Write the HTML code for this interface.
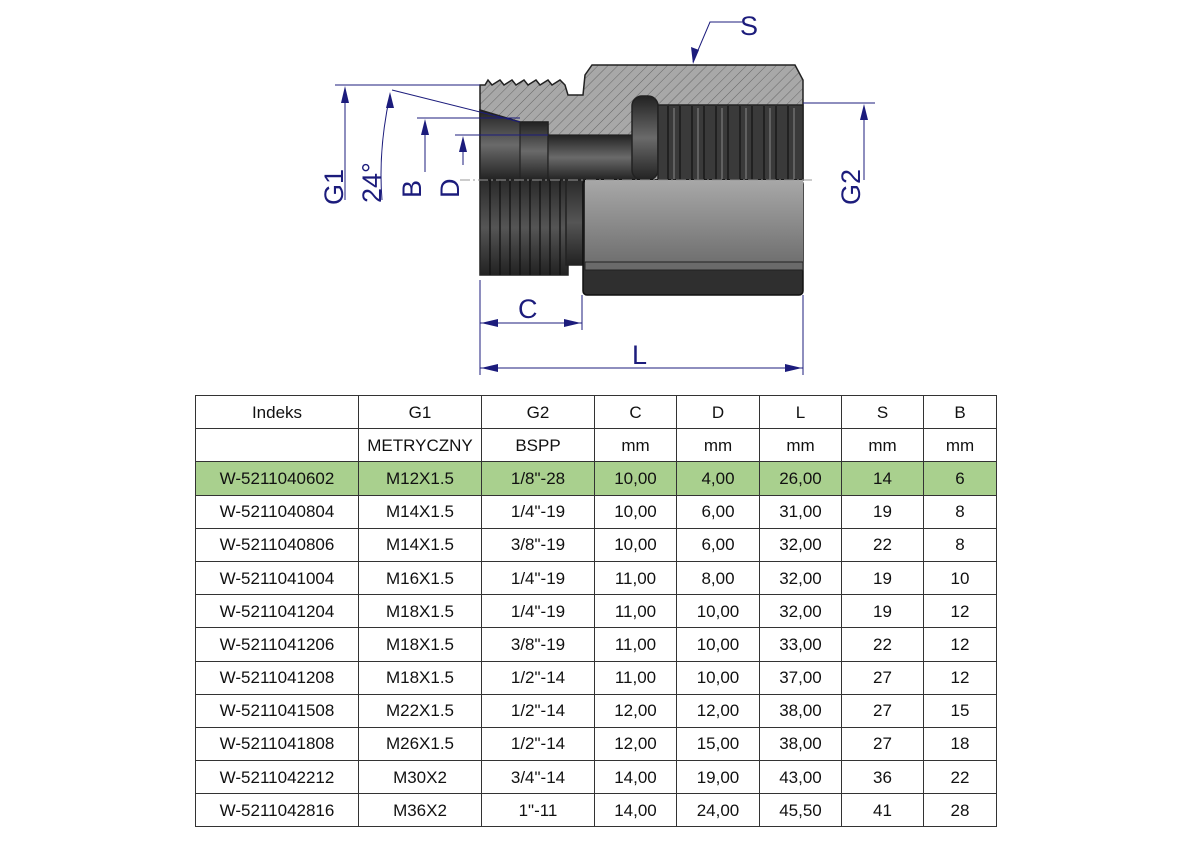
<!DOCTYPE html>
<html><head><meta charset="utf-8"><style>
body{margin:0;width:1191px;height:842px;background:#fff;position:relative;overflow:hidden;font-family:"Liberation Sans",Arial,sans-serif}
table{position:absolute;left:195px;top:395px;border-collapse:collapse;font-size:17px;color:#111;table-layout:fixed}
td{border:1.5px solid #333;text-align:center;padding:0;height:31.7px;line-height:31px}
tr{height:33.2px}
tr.g td{background:#a9d08e}
svg{position:absolute;left:0;top:0}
</style></head><body>
<svg width="1191" height="390" viewBox="0 0 1191 390">
<defs>
<pattern id="h" width="7" height="7" patternUnits="userSpaceOnUse" patternTransform="rotate(45)">
<rect width="7" height="7" fill="#a8a8a8"/><line x1="0" y1="0" x2="0" y2="7" stroke="#555" stroke-width="0.8"/></pattern>
<linearGradient id="dk" x1="0" y1="0" x2="0" y2="1"><stop offset="0" stop-color="#222"/><stop offset="0.5" stop-color="#6a6a6a"/><stop offset="1" stop-color="#222"/></linearGradient>
<linearGradient id="lt" x1="0" y1="0" x2="0" y2="1"><stop offset="0" stop-color="#a8a8a8"/><stop offset="1" stop-color="#707070"/></linearGradient>
<linearGradient id="bt" x1="0" y1="0" x2="0" y2="1"><stop offset="0" stop-color="#2a2a2a"/><stop offset="0.5" stop-color="#555"/><stop offset="1" stop-color="#222"/></linearGradient>
</defs>
<polygon points="480,85 485,85 488,80 492,85 500,80 504,85 512,80 516,85 524,80 528,85 536,80 540,85 548,80 552,85 560,80 565,85 568,95 583,95 585,75 592,65 795,65 803,80 803,180 480,180" fill="url(#h)" stroke="#222" stroke-width="1.5"/>
<polygon points="480,110 520,122 548,122 548,180 480,180" fill="url(#dk)" stroke="#222" stroke-width="1.5"/>
<rect x="520" y="122" width="28" height="58" fill="url(#dk)" stroke="#222" stroke-width="1.2"/>
<rect x="548" y="135" width="88" height="45" fill="url(#dk)" stroke="#222" stroke-width="1.2"/>
<rect x="632" y="96" width="26" height="84" rx="10" fill="url(#dk)" stroke="#222" stroke-width="1.5"/>
<rect x="658" y="105" width="145" height="75" fill="#3a3a3a" stroke="#222" stroke-width="1.5"/>
<g stroke="#111" stroke-width="1.2">
<line x1="668" y1="106" x2="668" y2="180"/><line x1="680" y1="106" x2="680" y2="180"/><line x1="692" y1="106" x2="692" y2="180"/><line x1="704" y1="106" x2="704" y2="180"/><line x1="716" y1="106" x2="716" y2="180"/><line x1="728" y1="106" x2="728" y2="180"/><line x1="740" y1="106" x2="740" y2="180"/><line x1="752" y1="106" x2="752" y2="180"/><line x1="764" y1="106" x2="764" y2="180"/><line x1="776" y1="106" x2="776" y2="180"/><line x1="788" y1="106" x2="788" y2="180"/></g>
<g stroke="#888" stroke-width="1"><line x1="674" y1="108" x2="674" y2="180"/><line x1="698" y1="108" x2="698" y2="180"/><line x1="722" y1="108" x2="722" y2="180"/><line x1="746" y1="108" x2="746" y2="180"/><line x1="770" y1="108" x2="770" y2="180"/><line x1="794" y1="108" x2="794" y2="180"/></g>
<rect x="480" y="180" width="88" height="95" fill="url(#bt)" stroke="#222" stroke-width="1.5"/>
<g stroke="#111" stroke-width="1.3"><line x1="490" y1="180" x2="490" y2="275"/><line x1="500" y1="180" x2="500" y2="275"/><line x1="510" y1="180" x2="510" y2="275"/><line x1="520" y1="180" x2="520" y2="275"/><line x1="530" y1="180" x2="530" y2="275"/><line x1="540" y1="180" x2="540" y2="275"/><line x1="550" y1="180" x2="550" y2="275"/><line x1="560" y1="180" x2="560" y2="275"/></g>
<rect x="566" y="180" width="17" height="85" fill="url(#bt)" stroke="#222" stroke-width="1.5"/>
<rect x="583" y="180" width="220" height="115" rx="4" fill="#2f2f2f" stroke="#111" stroke-width="1.5"/>
<polygon points="585,180 803,180 803,262 585,262" fill="url(#lt)"/>
<rect x="585" y="262" width="218" height="8" fill="#6a6a6a" stroke="#222" stroke-width="1"/>
<line x1="460" y1="180" x2="815" y2="180" stroke="#999" stroke-dasharray="10,3,2,3" stroke-width="1"/>
<g stroke="#1c1c7c" stroke-width="1" fill="none">
<line x1="335" y1="85" x2="480" y2="85"/><line x1="345" y1="88" x2="345" y2="200"/>
<path d="M390,95 Q378,150 382,200"/><line x1="392" y1="90" x2="520" y2="122"/>
<line x1="417" y1="118" x2="520" y2="118"/><line x1="425" y1="122" x2="425" y2="172"/>
<line x1="455" y1="135" x2="548" y2="135"/><line x1="463" y1="140" x2="463" y2="165"/>
<line x1="803" y1="103" x2="875" y2="103"/><line x1="864" y1="108" x2="864" y2="180"/>
<line x1="480" y1="280" x2="480" y2="375"/><line x1="803" y1="295" x2="803" y2="375"/><line x1="582" y1="295" x2="582" y2="330"/>
<line x1="480" y1="323" x2="582" y2="323"/><line x1="480" y1="368" x2="803" y2="368"/>
<path d="M742,22 L710,22 L693,62"/>
</g>
<g fill="#1c1c7c">
<polygon points="345,86 341,103 349,103"/><polygon points="390,92 386,108 394,108"/>
<polygon points="425,119 421,135 429,135"/><polygon points="463,136 459,152 467,152"/>
<polygon points="864,104 860,120 868,120"/><polygon points="693,64 691,47 699,50"/>
<polygon points="481,323 498,319 498,327"/><polygon points="581,323 564,319 564,327"/>
<polygon points="481,368 498,364 498,372"/><polygon points="802,368 785,364 785,372"/>
</g>
<g fill="#1c1c7c" font-family="Liberation Sans,Arial,sans-serif" font-size="27">
<text x="740" y="35">S</text><text x="518" y="318">C</text><text x="632" y="364">L</text>
<text transform="translate(343,205) rotate(-90)">G1</text>
<text transform="translate(381,203) rotate(-90)">24°</text>
<text transform="translate(421,198) rotate(-90)">B</text>
<text transform="translate(459,198) rotate(-90)">D</text>
<text transform="translate(860,205) rotate(-90)">G2</text>
</g>
</svg>
<table>
<colgroup><col style="width:163px"><col style="width:123px"><col style="width:113px"><col style="width:82px"><col style="width:83px"><col style="width:82px"><col style="width:82px"><col style="width:73px"></colgroup>
<tr><td>Indeks</td><td>G1</td><td>G2</td><td>C</td><td>D</td><td>L</td><td>S</td><td>B</td></tr>
<tr><td></td><td>METRYCZNY</td><td>BSPP</td><td>mm</td><td>mm</td><td>mm</td><td>mm</td><td>mm</td></tr>
<tr class="g"><td>W-5211040602</td><td>M12X1.5</td><td>1/8"-28</td><td>10,00</td><td>4,00</td><td>26,00</td><td>14</td><td>6</td></tr>
<tr><td>W-5211040804</td><td>M14X1.5</td><td>1/4"-19</td><td>10,00</td><td>6,00</td><td>31,00</td><td>19</td><td>8</td></tr>
<tr><td>W-5211040806</td><td>M14X1.5</td><td>3/8"-19</td><td>10,00</td><td>6,00</td><td>32,00</td><td>22</td><td>8</td></tr>
<tr><td>W-5211041004</td><td>M16X1.5</td><td>1/4"-19</td><td>11,00</td><td>8,00</td><td>32,00</td><td>19</td><td>10</td></tr>
<tr><td>W-5211041204</td><td>M18X1.5</td><td>1/4"-19</td><td>11,00</td><td>10,00</td><td>32,00</td><td>19</td><td>12</td></tr>
<tr><td>W-5211041206</td><td>M18X1.5</td><td>3/8"-19</td><td>11,00</td><td>10,00</td><td>33,00</td><td>22</td><td>12</td></tr>
<tr><td>W-5211041208</td><td>M18X1.5</td><td>1/2"-14</td><td>11,00</td><td>10,00</td><td>37,00</td><td>27</td><td>12</td></tr>
<tr><td>W-5211041508</td><td>M22X1.5</td><td>1/2"-14</td><td>12,00</td><td>12,00</td><td>38,00</td><td>27</td><td>15</td></tr>
<tr><td>W-5211041808</td><td>M26X1.5</td><td>1/2"-14</td><td>12,00</td><td>15,00</td><td>38,00</td><td>27</td><td>18</td></tr>
<tr><td>W-5211042212</td><td>M30X2</td><td>3/4"-14</td><td>14,00</td><td>19,00</td><td>43,00</td><td>36</td><td>22</td></tr>
<tr><td>W-5211042816</td><td>M36X2</td><td>1"-11</td><td>14,00</td><td>24,00</td><td>45,50</td><td>41</td><td>28</td></tr>
</table>
</body></html>
